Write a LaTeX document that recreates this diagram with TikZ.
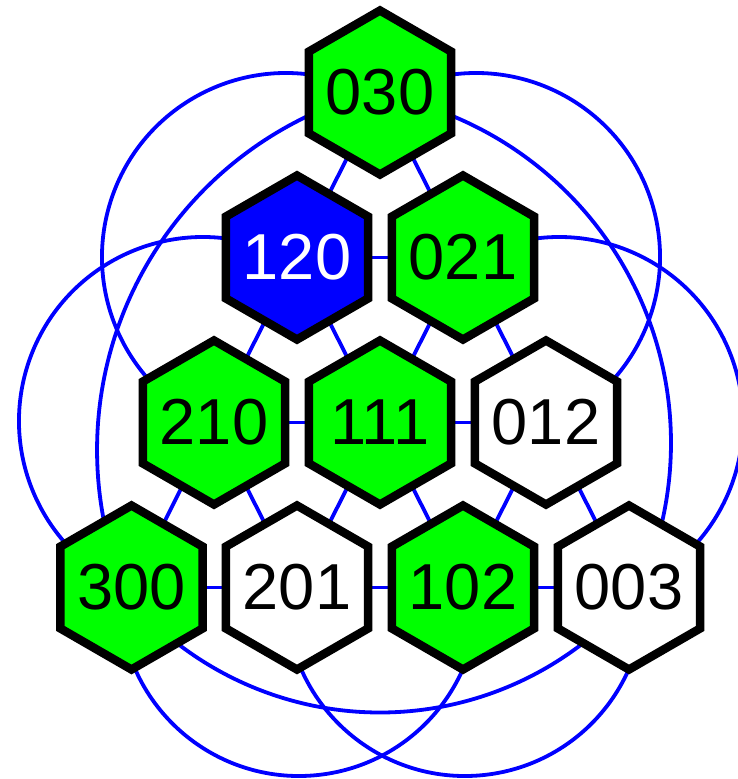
\documentclass[tikz,border=0pt]{standalone}
\usepackage{fontspec}
\setmainfont{Liberation Sans}
\usetikzlibrary{shapes.geometric}
\pgfdeclarelayer{bg}
\pgfsetlayers{bg,main}
\definecolor{hexgreen}{RGB}{0,255,0}
\definecolor{hexblue}{RGB}{0,0,255}
\definecolor{linkblue}{RGB}{0,0,255}
\newcommand\hexlabel[1]{\makebox[0pt]{#1}}
\tikzset{
  hexnode/.style={regular polygon, regular polygon sides=6, shape border rotate=30,
    minimum size=164pt, inner sep=0pt, outer sep=0pt, draw=black, line width=8.5pt,
    line join=miter, font=\fontsize{65}{78}\selectfont, text=black},
  greenhex/.style={hexnode, fill=hexgreen},
  whitehex/.style={hexnode, fill=white},
  bluehex/.style={hexnode, fill=hexblue, text=white},
  link/.style={draw=linkblue, line width=3.8pt}
}
\begin{document}
\begin{tikzpicture}[x=1pt, y=-1pt]
\useasboundingbox (0,0) rectangle (738,779);
\clip (0,0) rectangle (738,779);
% hexagon nodes
\node[greenhex] (n030) at (380,92.5) {\hexlabel{030}};
\node[bluehex]  (n120) at (297,257.5) {\hexlabel{120}};
\node[greenhex] (n021) at (463,257.5) {\hexlabel{021}};
\node[greenhex] (n210) at (214,422.5) {\hexlabel{210}};
\node[greenhex] (n111) at (380,422.5) {\hexlabel{111}};
\node[whitehex] (n012) at (546,422.5) {\hexlabel{012}};
\node[greenhex] (n300) at (131.5,587.5) {\hexlabel{300}};
\node[whitehex] (n201) at (297,587.5) {\hexlabel{201}};
\node[greenhex] (n102) at (463,587.5) {\hexlabel{102}};
\node[whitehex] (n003) at (629,587.5) {\hexlabel{003}};
\begin{pgfonlayer}{bg}
% straight links
\foreach \a/\b in {030/120,030/021,120/021,120/210,120/111,021/111,021/012,
  210/111,111/012,210/300,210/201,111/201,111/102,012/102,012/003,
  300/201,201/102,102/003}
  \draw[link] (n\a.center) -- (n\b.center);
% curved links
\draw[link] (n030.center) -- (333.6,79.3) arc[start angle=-75, end angle=-245, radius=184] -- (n210.center);
\draw[link] (n030.center) -- (428.4,79.3) arc[start angle=-105, end angle=65, radius=184] -- (n012.center);
\draw[link] (n120.center) -- (250.6,243.3) arc[start angle=-75, end angle=-245, radius=184] -- (n300.center);
\draw[link] (n021.center) -- (511.4,243.3) arc[start angle=-105, end angle=65, radius=184] -- (n003.center);
\draw[link] (n030.center) -- (340.5,102.3) arc[start angle=250, end angle=158, radius=370] -- (n300.center);
\draw[link] (n030.center) -- (408.6,101.1) arc[start angle=-75, end angle=25, radius=354] -- (n003.center);
\draw[link] (n300.center) -- (125.7,593.9) arc[start angle=140, end angle=40, radius=332] -- (n003.center);
\draw[link] (n300.center) -- (120.7,612.6) arc[start angle=175, end angle=5, radius=179] -- (n102.center);
\draw[link] (n201.center) -- (286.7,612.6) arc[start angle=175, end angle=5, radius=179] -- (n003.center);
\end{pgfonlayer}
\end{tikzpicture}
\end{document}
